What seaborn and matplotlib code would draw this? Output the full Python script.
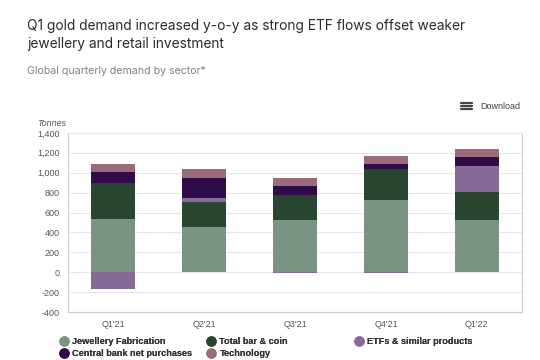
import numpy as np
import pandas as pd
import matplotlib
matplotlib.use("Agg")
import matplotlib.pyplot as plt
from matplotlib.lines import Line2D
import seaborn as sns

quarters = ["Q1'21", "Q2'21", "Q3'21", "Q4'21", "Q1'22"]
jewellery = [537, 459, 522, 724, 525]
bar_coin = [357, 242, 254, 313, 277]
etfs = [-165, 43, -12, -10, 269]
central_bank = [114, 206, 91, 48, 84]
technology = [78, 87, 79, 87, 84]

series = ["Jewellery Fabrication", "Total bar & coin", "ETFs & similar products",
          "Central bank net purchases", "Technology"]
colors = {
    "Jewellery Fabrication": "#7b9382",
    "Total bar & coin": "#27452f",
    "ETFs & similar products": "#866a98",
    "Central bank net purchases": "#2f0b48",
    "Technology": "#9b6b7b",
}

df = pd.DataFrame({
    "quarter": quarters,
    "Jewellery Fabrication": jewellery,
    "Total bar & coin": bar_coin,
    "ETFs & similar products": etfs,
    "Central bank net purchases": central_bank,
    "Technology": technology,
})

# positive parts stack upward, negative ETF flows go below zero
pos = df[series].clip(lower=0)
cum = pos.cumsum(axis=1)
cum["quarter"] = quarters
neg = df[["quarter"]].copy()
neg["val"] = df["ETFs & similar products"].clip(upper=0)

sns.set_style("white")
plt.rcParams["font.family"] = ["Liberation Sans", "DejaVu Sans"]

fig = plt.figure(figsize=(5.4, 3.6), dpi=100)
ax = fig.add_axes([0.126, 0.133, 0.841, 0.498])

for s in reversed(series):
    sns.barplot(data=cum, x="quarter", y=s, color=colors[s], width=0.485,
                saturation=1, ax=ax, zorder=3, linewidth=0)
sns.barplot(data=neg, x="quarter", y="val", color=colors["ETFs & similar products"],
            width=0.485, saturation=1, ax=ax, zorder=3, linewidth=0)

ax.set_ylim(-400, 1400)
ax.set_yticks(np.arange(-400, 1401, 200))
ax.set_yticklabels([f"{v:,}" for v in range(-400, 1401, 200)])
ax.set_xlim(-0.5, 4.5)
ax.set_xlabel("")
ax.set_ylabel("")
ax.grid(axis="y", color="#e6e6e6", linewidth=0.8, zorder=0)
ax.tick_params(axis="both", labelsize=6.5, colors="#555555", length=0, pad=6)
for side in ["left", "right", "top", "bottom"]:
    ax.spines[side].set_visible(True)
    ax.spines[side].set_color("#cccccc")
    ax.spines[side].set_linewidth(0.8)
ax.spines["top"].set_color("#e8e8e8")

fig.text(37 / 540, 1 - 123 / 360, "Tonnes", fontsize=6.5, style="italic",
         color="#555555", va="center", ha="left")

title_font = ["Inter", "DejaVu Sans"]
fig.text(27 / 540, 1 - 26 / 360, "Q1 gold demand increased y-o-y as strong ETF flows offset weaker",
         fontsize=9.9, color="#2b2b2b", va="center", ha="left", family=title_font)
fig.text(27 / 540, 1 - 44 / 360, "jewellery and retail investment",
         fontsize=9.9, color="#2b2b2b", va="center", ha="left", family=title_font)
fig.text(27 / 540, 1 - 71 / 360, "Global quarterly demand by sector*",
         fontsize=7.6, color="#808080", va="center", ha="left", family=title_font)

# download menu
fig.text(480 / 540, 1 - 106 / 360, "Download", fontsize=6.5, color="#444444",
         va="center", ha="left")
for dy in (-3, 0, 3):
    fig.add_artist(Line2D([461 / 540, 472 / 540], [1 - (106 + dy) / 360] * 2,
                          color="#444444", linewidth=1.6))

# legend, laid out in fixed columns
legend_cols = [
    (60, ["Jewellery Fabrication", "Central bank net purchases"]),
    (207, ["Total bar & coin", "Technology"]),
    (355, ["ETFs & similar products"]),
]
for x0, names in legend_cols:
    handles = [Line2D([], [], marker="o", linestyle="", markersize=6.5,
                      markerfacecolor=colors[n], markeredgecolor=colors[n]) for n in names]
    leg = fig.legend(handles, names, loc="upper left",
                     bbox_to_anchor=(x0 / 540, 1 - 337 / 360), frameon=False,
                     fontsize=6.6, handlelength=0.8, handletextpad=0.55,
                     labelspacing=0.3, borderpad=0, borderaxespad=0)
    for t in leg.get_texts():
        t.set_color("#333333")
        t.set_fontweight("bold")
    fig.add_artist(leg)

fig.savefig("out.png", dpi=100)
